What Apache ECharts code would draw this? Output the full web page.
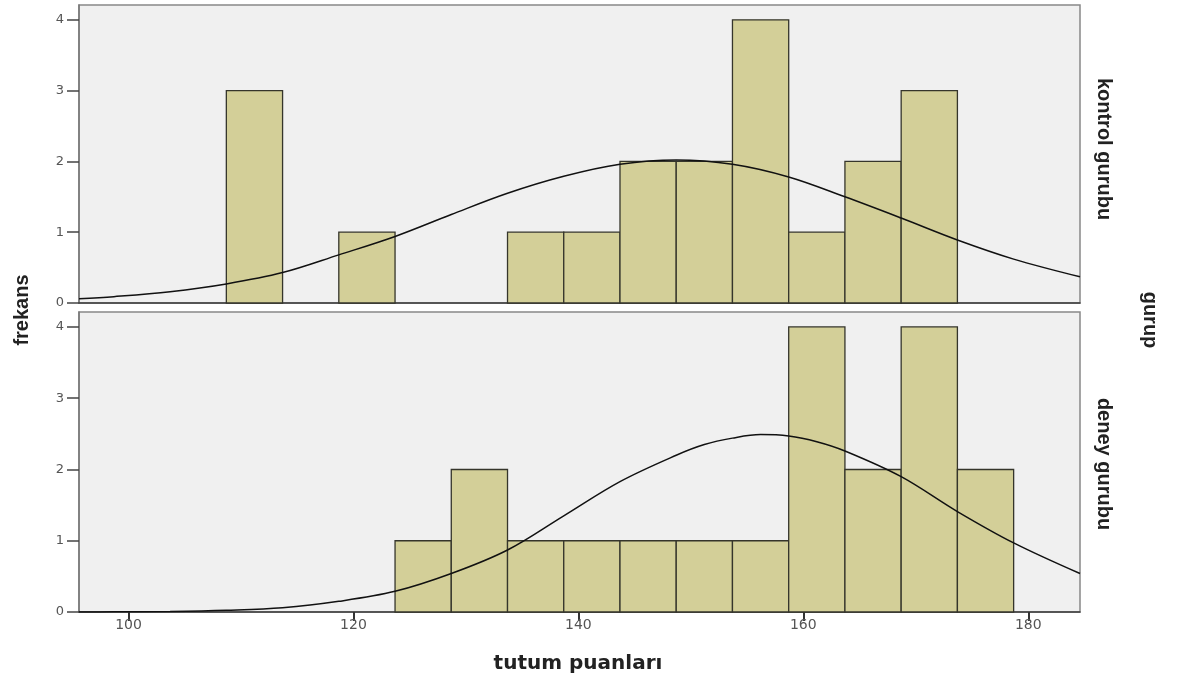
<!DOCTYPE html>
<html>
<head>
<meta charset="utf-8">
<script src="https://cdn.jsdelivr.net/npm/echarts@6/dist/echarts.min.js"></script>
<style>html,body{margin:0;padding:0;background:#fff;}#c{width:1178px;height:682px;}</style>
</head>
<body>
<div id="c"></div>
<script>
// ---- data ----
const binStarts = [108.7, 113.7, 118.7, 123.7, 128.7, 133.7, 138.7, 143.7, 148.7, 153.7, 158.7, 163.7, 168.7, 173.7];
const binWidth = 5;
const kontrolCounts = [3, 0, 1, 0, 0, 1, 1, 2, 2, 4, 1, 2, 3, 0];
const deneyCounts   = [0, 0, 0, 1, 2, 1, 1, 1, 1, 1, 4, 2, 4, 2];
// fitted normal curves
const kontrolCurveX = [95.6, 98.7, 103.7, 108.7, 113.7, 118.7, 123.7, 128.7, 133.7, 138.7, 143.7, 148.7, 153.7, 158.7, 163.7, 168.7, 173.7, 178.7, 184.6];
const kontrolCurveY = [0.06, 0.09, 0.16, 0.27, 0.43, 0.68, 0.94, 1.25, 1.55, 1.79, 1.96, 2.02, 1.96, 1.78, 1.50, 1.20, 0.89, 0.62, 0.37];
const deneyCurveX = [95.6, 98.7, 103.7, 108.7, 113.7, 118.7, 123.7, 128.7, 133.7, 138.7, 143.7, 148.7, 151.2, 153.7, 156.2, 158.7, 161.2, 163.7, 168.7, 173.7, 178.7, 184.6];
const deneyCurveY = [0.0, 0.002, 0.008, 0.025, 0.06, 0.15, 0.29, 0.54, 0.87, 1.35, 1.83, 2.20, 2.35, 2.44, 2.49, 2.47, 2.39, 2.26, 1.90, 1.41, 0.97, 0.54];
const xTicks = [100, 120, 140, 160, 180];
const yTicks = [0, 1, 2, 3, 4];
const xTitle = 'tutum puanları';
const yTitle = 'frekans';
const groupTitle = 'gurup';
const panelNames = ['kontrol gurubu', 'deney gurubu'];

// ---- build ----
function histData(counts) {
  const out = [];
  counts.forEach((c, i) => { if (c > 0) out.push([binStarts[i], binStarts[i] + binWidth, c]); });
  return out;
}
function renderBar(params, api) {
  const p0 = api.coord([api.value(0), 0]);
  const p1 = api.coord([api.value(1), api.value(2)]);
  return {
    type: 'rect',
    shape: { x: p0[0], y: p1[1], width: p1[0] - p0[0], height: p0[1] - p1[1] },
    style: { fill: '#d3cf98', stroke: '#35352b', lineWidth: 1.3 }
  };
}
const chart = echarts.init(document.getElementById('c'), null, { renderer: 'canvas' });
const X_MIN = 95.6, X_MAX = 184.6, Y_MAX = 4.21;
function xAxis(idx, showLabels) {
  return {
    type: 'value', gridIndex: idx, min: X_MIN, max: X_MAX,
    axisLine: { show: true, onZero: false, lineStyle: { color: '#3c3c3c', width: 1.5 } },
    axisTick: { show: showLabels, length: 9, customValues: xTicks, lineStyle: { color: '#333', width: 2 } },
    axisLabel: { show: showLabels, customValues: xTicks, margin: 6, color: '#555', fontSize: 14, fontFamily: 'DejaVu Sans' },
    splitLine: { show: false }
  };
}
function yAxis(idx) {
  return {
    type: 'value', gridIndex: idx, min: 0, max: Y_MAX,
    axisLine: { show: true, lineStyle: { color: '#777', width: 1.5 } },
    axisTick: { show: true, length: 12, customValues: yTicks, lineStyle: { color: '#444', width: 1.5 } },
    axisLabel: { show: true, customValues: yTicks, margin: 15, color: '#555', fontSize: 13, fontFamily: 'DejaVu Sans' },
    splitLine: { show: false }
  };
}
const gridStyle = { show: true, backgroundColor: '#f0f0f0', borderColor: '#888', borderWidth: 1.5 };
chart.setOption({
  animation: false,
  backgroundColor: '#ffffff',
  grid: [
    Object.assign({ left: 79, top: 5, width: 1001, height: 298 }, gridStyle),
    Object.assign({ left: 79, top: 312, width: 1001, height: 300 }, gridStyle)
  ],
  xAxis: [xAxis(0, false), xAxis(1, true)],
  yAxis: [yAxis(0), yAxis(1)],
  series: [
    { type: 'custom', xAxisIndex: 0, yAxisIndex: 0, renderItem: renderBar, data: histData(kontrolCounts), encode: { x: [0, 1], y: 2 }, z: 2 },
    { type: 'custom', xAxisIndex: 1, yAxisIndex: 1, renderItem: renderBar, data: histData(deneyCounts), encode: { x: [0, 1], y: 2 }, z: 2 },
    { type: 'line', xAxisIndex: 0, yAxisIndex: 0, smooth: 0.35, showSymbol: false, z: 3,
      lineStyle: { color: '#111', width: 1.5 }, data: kontrolCurveX.map((x, i) => [x, kontrolCurveY[i]]) },
    { type: 'line', xAxisIndex: 1, yAxisIndex: 1, smooth: 0.35, showSymbol: false, z: 3,
      lineStyle: { color: '#111', width: 1.5 }, data: deneyCurveX.map((x, i) => [x, deneyCurveY[i]]) }
  ],
  graphic: [
    { type: 'text', x: 578, y: 664, style: { text: xTitle, fontSize: 20, fontWeight: 'bold', fontFamily: 'DejaVu Sans', fill: '#222', align: 'center', verticalAlign: 'middle' } },
    { type: 'text', x: 22, y: 310, rotation: Math.PI / 2, style: { text: yTitle, fontSize: 20, fontWeight: 'bold', fontFamily: 'Liberation Sans', fill: '#222', align: 'center', verticalAlign: 'middle' } },
    { type: 'text', x: 1104, y: 149, rotation: -Math.PI / 2, style: { text: panelNames[0], fontSize: 20, fontWeight: 'bold', fontFamily: 'Liberation Sans', fill: '#222', align: 'center', verticalAlign: 'middle' } },
    { type: 'text', x: 1104, y: 464, rotation: -Math.PI / 2, style: { text: panelNames[1], fontSize: 20, fontWeight: 'bold', fontFamily: 'Liberation Sans', fill: '#222', align: 'center', verticalAlign: 'middle' } },
    { type: 'text', x: 1150, y: 320, rotation: -Math.PI / 2, style: { text: groupTitle, fontSize: 20, fontWeight: 'bold', fontFamily: 'Liberation Sans', fill: '#222', align: 'center', verticalAlign: 'middle' } }
  ]
});
</script>
</body>
</html>
